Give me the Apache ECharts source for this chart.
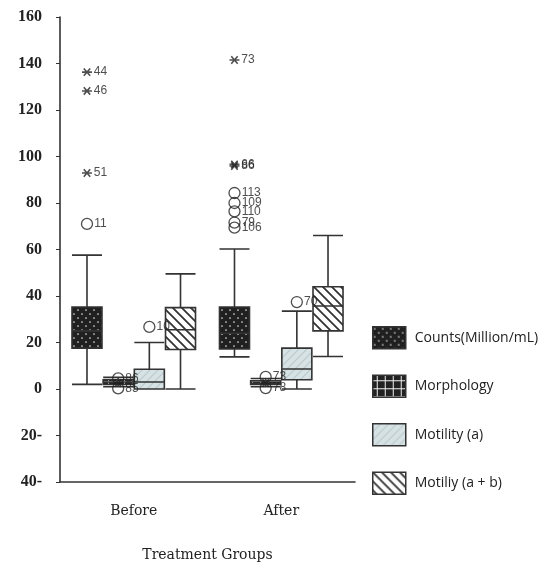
<!DOCTYPE html>
<html><head><meta charset="utf-8">
<script src="https://cdn.jsdelivr.net/npm/echarts@6/dist/echarts.min.js"></script>
<style>html,body{margin:0;padding:0;background:#fff}#c{width:550px;height:567px}</style>
</head><body><div id="c"></div>
<script>
// ---- data ----
const groups = ['Before', 'After'];
const seriesNames = ['Counts(Million/mL)', 'Morphology', 'Motility (a)', 'Motiliy (a + b)'];
// [min, Q1, median, Q3, max] per group
const countsBox = [[2, 17.6, 25, 35.3, 57.6], [13.8, 17.2, 24, 35.3, 60.2]];
const morphologyBox = [[1, 2, 3, 4, 5], [1, 2, 2.5, 3.5, 4.5]];
const motilityABox = [[0, 0, 3, 8.5, 20], [0, 4, 8.6, 17.6, 33.5]];
const motilityABBox = [[0, 17, 25.5, 35, 49.5], [14, 25, 35.7, 44, 66]];
// outliers: [groupIndex, seriesIndex, value, caseLabel]
const starOutliers = [
  [0, 0, 136.3, '44'], [0, 0, 128.2, '46'], [0, 0, 92.9, '51'], [0, 1, 2.6, ''],
  [1, 0, 141.5, '73'], [1, 0, 96.6, '66'], [1, 0, 95.9, '86'], [1, 1, 2.6, '']
];
const circleOutliers = [
  [0, 0, 71, '11'], [0, 1, 4.6, '86'], [0, 1, 0.3, '85'], [0, 2, 26.7, '10'],
  [1, 0, 84.3, '113'], [1, 0, 80, '109'], [1, 0, 76.4, '110'], [1, 0, 71.6, '79'], [1, 0, 69.4, '106'],
  [1, 1, 5.2, '73'], [1, 1, 0.4, '78'], [1, 2, 37.4, '70']
];
const yMin = -40, yMax = 160, yStep = 20;

// ---- patterns ----
function pattern(kind) {
  const c = document.createElement('canvas');
  const g = c.getContext('2d');
  if (kind === 'dots') {
    c.width = 8; c.height = 8;
    g.fillStyle = '#202020'; g.fillRect(0, 0, 8, 8);
    g.fillStyle = '#dcdcdc';
    g.beginPath(); g.arc(2, 2, 0.85, 0, 7); g.fill();
    g.beginPath(); g.arc(6, 6, 0.85, 0, 7); g.fill();
  } else if (kind === 'grid') {
    c.width = 8; c.height = 8;
    g.fillStyle = '#222'; g.fillRect(0, 0, 8, 8);
    g.fillStyle = '#eee'; g.fillRect(4, 0, 1, 8); g.fillRect(0, 5, 8, 1);
  } else if (kind === 'light') {
    c.width = 8; c.height = 8;
    g.fillStyle = '#d6e2e4'; g.fillRect(0, 0, 8, 8);
    g.strokeStyle = '#bccbcf'; g.lineWidth = 1.2;
    g.beginPath(); g.moveTo(0, 8); g.lineTo(8, 0); g.moveTo(-4, 4); g.lineTo(4, -4); g.moveTo(4, 12); g.lineTo(12, 4); g.stroke();
  } else {
    c.width = 9; c.height = 9;
    g.fillStyle = '#fff'; g.fillRect(0, 0, 9, 9);
    g.strokeStyle = '#333'; g.lineWidth = 1.8;
    g.beginPath(); g.moveTo(0, 0); g.lineTo(9, 9); g.moveTo(-4.5, 4.5); g.lineTo(4.5, 13.5); g.moveTo(4.5, -4.5); g.lineTo(13.5, 4.5); g.stroke();
  }
  return { image: c, repeat: 'repeat' };
}
const fills = [pattern('dots'), pattern('grid'), pattern('light'), pattern('stripe')];
const boxData = [countsBox, morphologyBox, motilityABox, motilityABBox];

// ---- layout helpers (mirror ECharts boxplot offsets) ----
const gridLeft = 60, gridTop = 17, gridW = 295, gridH = 465;
const bandW = gridW / groups.length;
const nS = seriesNames.length;
const avail = bandW * 0.8 - 2;
const gapW = avail / nS * 0.3;
const autoBoxW = (avail - gapW * (nS - 1)) / nS;
const offs = seriesNames.map((_, i) => (autoBoxW / 2 - avail / 2 + i * (gapW + autoBoxW)) / bandW);
const toPt = o => ({ value: [o[0] + 0.5 + offs[o[1]], o[2]], name: o[3] });

const font = 'Liberation Sans';
const labelCfg = { show: true, position: 'right', distance: 1, formatter: '{b}', fontSize: 12, fontFamily: font, color: '#222' };

const series = seriesNames.map((name, i) => ({
  name, type: 'boxplot', xAxisIndex: 0, yAxisIndex: 0,
  boxWidth: [30, 30],
  data: boxData[i],
  itemStyle: { color: fills[i], borderColor: '#333', borderWidth: 1.6 },
  emphasis: { disabled: true }
}));
series.push({
  type: 'scatter', xAxisIndex: 1, yAxisIndex: 0, z: 5,
  symbol: 'path://M0,5L10,5M1.8,1.3L8.2,8.7M8.2,1.3L1.8,8.7', symbolKeepAspect: true, symbolSize: 10,
  itemStyle: { color: 'rgba(0,0,0,0)', borderColor: '#222', borderWidth: 1.6 },
  label: labelCfg,
  data: starOutliers.map(toPt)
});
series.push({
  type: 'scatter', xAxisIndex: 1, yAxisIndex: 0, z: 5,
  symbol: 'circle', symbolSize: 11,
  itemStyle: { color: 'rgba(0,0,0,0)', borderColor: '#222', borderWidth: 1.3 },
  label: labelCfg,
  data: circleOutliers.map(toPt)
});

const chart = echarts.init(document.getElementById('c'));
chart.setOption({
  animation: false,
  backgroundColor: '#fff',
  grid: { left: gridLeft, top: gridTop, width: gridW, height: gridH, containLabel: false },
  legend: {
    data: seriesNames.map((name, i) => ({
      name, icon: 'rect',
      itemStyle: { color: fills[i], borderColor: '#333', borderWidth: 1.5 }
    })),
    orient: 'vertical', left: 367, top: 321,
    itemWidth: 33, itemHeight: 22, itemGap: 25, icon: 'rect',
    textStyle: { fontFamily: 'Open Sans', fontSize: 14, color: '#222', padding: [0, 0, 0, 4] },
    selectedMode: false
  },
  xAxis: [{
    type: 'category', data: groups, boundaryGap: true,
    name: 'Treatment Groups', nameLocation: 'middle', nameGap: 66,
    nameTextStyle: { fontFamily: 'DejaVu Serif', fontSize: 14, color: '#222' },
    axisLine: { onZero: false, lineStyle: { color: '#333', width: 1.6 } },
    axisTick: { alignWithLabel: true, length: 5, lineStyle: { color: '#333' } },
    axisLabel: { margin: 22, fontFamily: 'DejaVu Serif', fontSize: 14, color: '#222' },
    splitLine: { show: false }
  }, {
    type: 'value', min: 0, max: groups.length, show: false
  }],
  yAxis: {
    type: 'value', min: yMin, max: yMax, interval: yStep,
    axisLine: { show: true, lineStyle: { color: '#333', width: 1.6 } },
    axisTick: { show: true, length: 4, lineStyle: { color: '#333' } },
    axisLabel: {
      margin: 18, fontFamily: 'Liberation Serif', fontWeight: 'bold', fontSize: 16, color: '#222',
      formatter: v => v < 0 ? (-v) + '-' : String(v)
    },
    splitLine: { show: false }
  },
  series
});
</script></body></html>
